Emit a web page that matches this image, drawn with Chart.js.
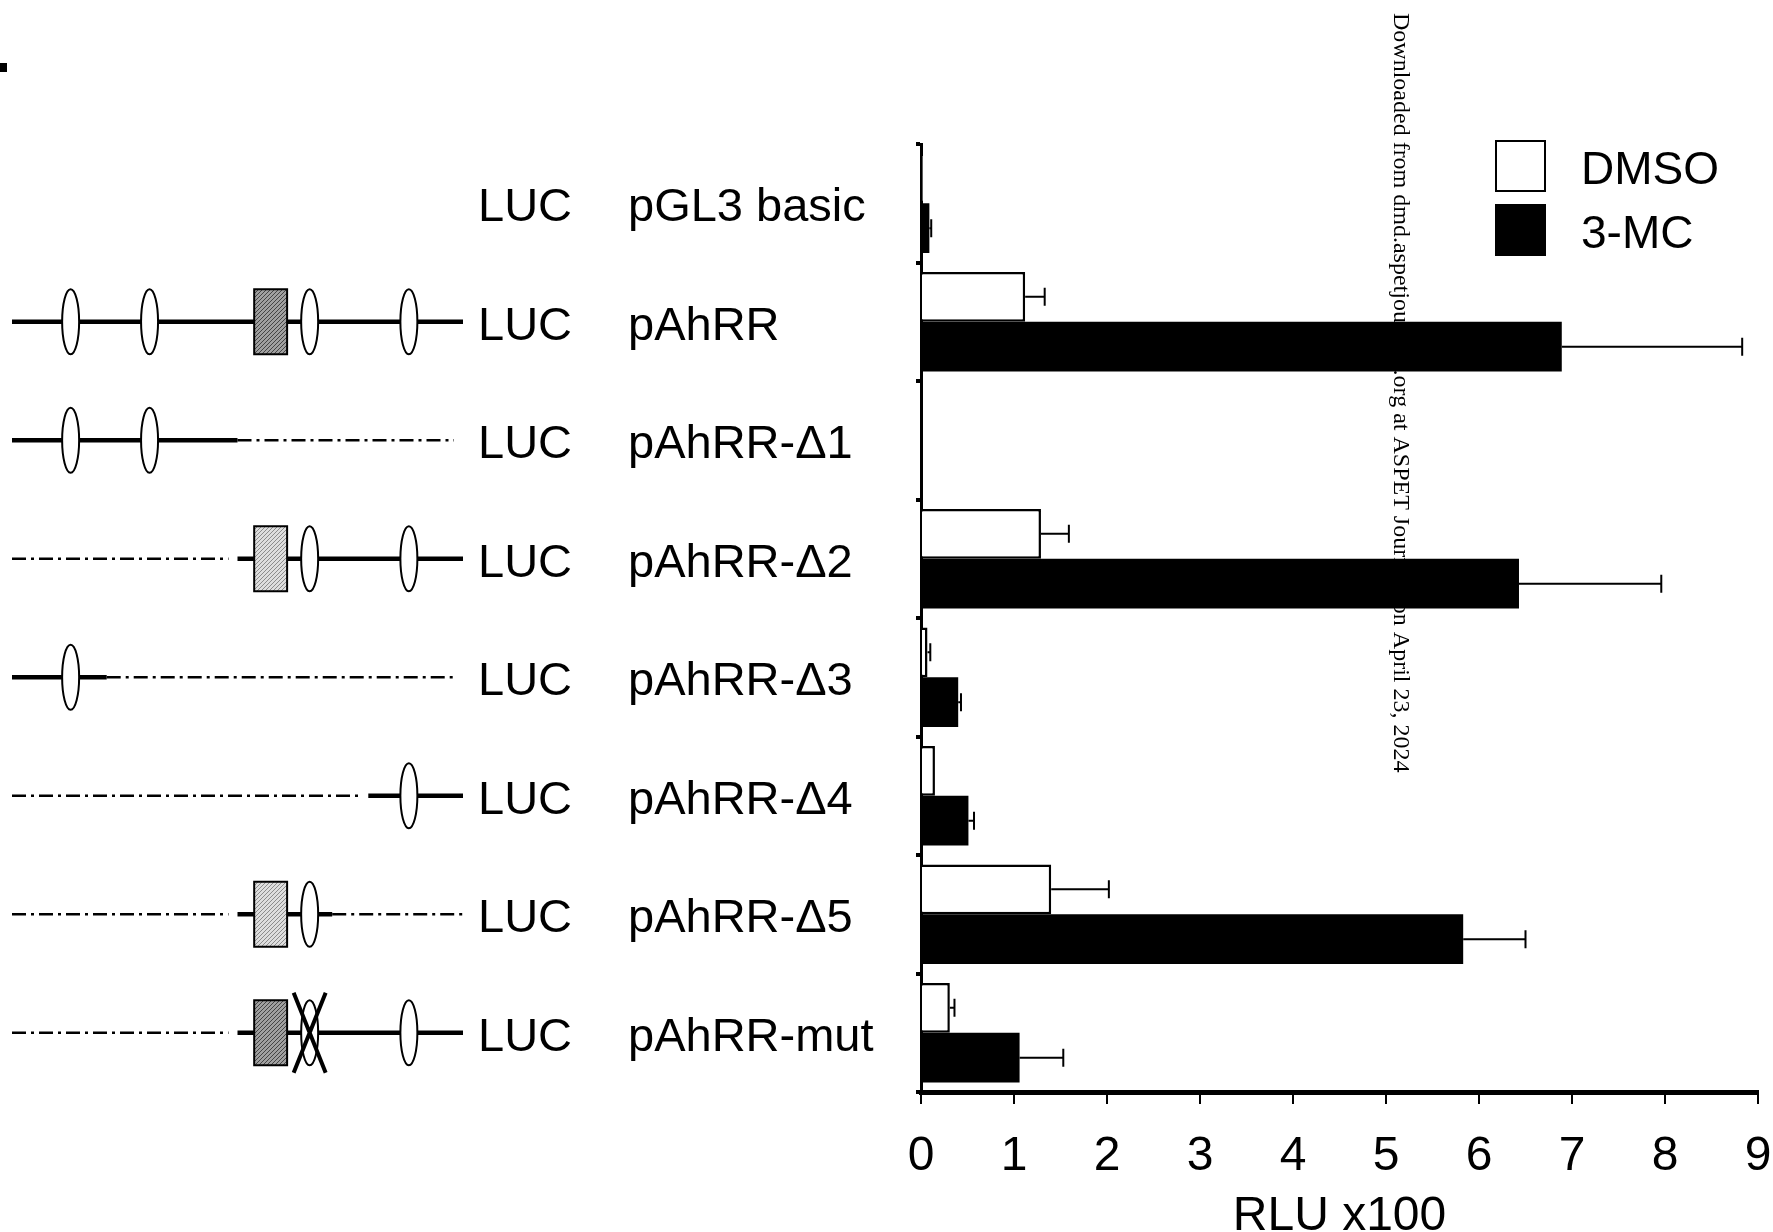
<!DOCTYPE html>
<html>
<head>
<meta charset="utf-8">
<script src="https://cdn.jsdelivr.net/npm/chart.js@4/dist/chart.umd.min.js"></script>
<style>
  body { margin: 0; background: #ffffff; }
  canvas { display: block; }
</style>
</head>
<body>
<canvas id="lucChart" width="1773" height="1232"></canvas>
<script>
// constructs, top to bottom
const constructs = ['pGL3 basic', 'pAhRR', 'pAhRR-\u03941', 'pAhRR-\u03942', 'pAhRR-\u03943', 'pAhRR-\u03944', 'pAhRR-\u03945', 'pAhRR-mut'];

// RLU x100
const dmsoValues = [0.02, 1.12, 0.01, 1.29, 0.07, 0.15, 1.40, 0.31];
const dmsoErrors = [0, 0.21, 0, 0.30, 0.03, 0, 0.62, 0.05];
const mcValues = [0.09, 6.89, 0.01, 6.43, 0.40, 0.51, 5.83, 1.06];
const mcErrors = [0.02, 1.94, 0, 1.53, 0.03, 0.06, 0.67, 0.47];

const xTicks = [0, 1, 2, 3, 4, 5, 6, 7, 8, 9];

// promoter maps, positions in % of the cloned region (0 = 5' end)
const solidParts = [[], [[0, 100]], [[0, 50]], [[50, 100]], [[0, 21]], [[79, 100]], [[50, 71]], [[50, 100]]];
const deletedParts = [[], [], [[50, 98]], [[0, 48]], [[21, 98]], [[0, 77]], [[0, 48], [71, 100]], [[0, 48]]];
const xreSites = [[], [13, 30.5, 66, 88], [13, 30.5], [66, 88], [13], [88], [66], [66, 88]];
const mutatedSites = [[], [], [], [], [], [], [], [66]];
const boxKind = [null, 'dark', null, 'light', null, null, 'light', 'dark'];
const boxSpan = [53.7, 61];

const FONT = '"Liberation Sans", Arial, Helvetica, sans-serif';
const MAP_LEFT = 12;
const MAP_RIGHT = 463;

const hatch = (ctx, bg, fg) => {
    const c = document.createElement('canvas');
    c.width = 4;
    c.height = 4;
    const g = c.getContext('2d');
    g.fillStyle = bg;
    g.fillRect(0, 0, 4, 4);
    g.strokeStyle = fg;
    g.lineWidth = 1;
    g.beginPath();
    g.moveTo(0, 4);
    g.lineTo(4, 0);
    g.stroke();
    return ctx.createPattern(c, 'repeat');
};

const figurePlugin = {
    id: 'figure',
    beforeDatasetsDraw(chart) {
        // journal download stamp running down the page
        const ctx = chart.ctx;
        ctx.save();
        ctx.translate(1400, 13);
        ctx.rotate(Math.PI / 2);
        ctx.fillStyle = '#000';
        ctx.font = '24px "Liberation Serif", "Times New Roman", serif';
        ctx.textAlign = 'left';
        ctx.textBaseline = 'middle';
        ctx.fillText('Downloaded from dmd.aspetjournals.org at ASPET Journals on April 23, 2024', 0, 0);
        ctx.restore();
    },
    afterDatasetsDraw(chart) {
        // one-sided error bars
        const ctx = chart.ctx;
        const xs = chart.scales.x;
        const errs = [dmsoErrors, mcErrors];
        ctx.save();
        ctx.strokeStyle = '#000';
        ctx.lineWidth = 2;
        chart.data.datasets.forEach((ds, di) => {
            const meta = chart.getDatasetMeta(di);
            meta.data.forEach((bar, i) => {
                const e = errs[di][i];
                if (!e) return;
                const x0 = bar.x;
                const x1 = xs.getPixelForValue(ds.data[i] + e);
                ctx.beginPath();
                ctx.moveTo(x0, bar.y);
                ctx.lineTo(x1, bar.y);
                ctx.moveTo(x1, bar.y - 9);
                ctx.lineTo(x1, bar.y + 9);
                ctx.stroke();
            });
        });
        ctx.restore();
    },
    afterDraw(chart) {
        const ctx = chart.ctx;
        const ys = chart.scales.y;
        const ux = (u) => MAP_LEFT + u / 100 * (MAP_RIGHT - MAP_LEFT);
        const dark = hatch(ctx, '#a0a0a0', '#444');
        const light = hatch(ctx, '#dedede', '#8c8c8c');

        ctx.save();
        // fragment of panel letter at the page edge
        ctx.fillStyle = '#000';
        ctx.fillRect(0, 63, 7, 9);

        constructs.forEach((name, i) => {
            const cy = ys.getPixelForValue(i);

            ctx.fillStyle = '#000';
            ctx.font = '47px ' + FONT;
            ctx.textAlign = 'left';
            ctx.textBaseline = 'alphabetic';
            ctx.fillText('LUC', 478, cy + 18);
            ctx.fillText(name, 628, cy + 18);

            // deleted region, dash-dot
            ctx.strokeStyle = '#000';
            ctx.lineWidth = 2.5;
            ctx.setLineDash([14, 5, 3, 5]);
            deletedParts[i].forEach(([a, b]) => {
                ctx.beginPath();
                ctx.moveTo(ux(a), cy);
                ctx.lineTo(ux(b), cy);
                ctx.stroke();
            });
            ctx.setLineDash([]);

            // retained region
            ctx.lineWidth = 4.5;
            solidParts[i].forEach(([a, b]) => {
                ctx.beginPath();
                ctx.moveTo(ux(a), cy);
                ctx.lineTo(ux(b), cy);
                ctx.stroke();
            });

            if (boxKind[i]) {
                const bx = ux(boxSpan[0]);
                const bw = ux(boxSpan[1]) - bx;
                ctx.fillStyle = boxKind[i] === 'dark' ? dark : light;
                ctx.fillRect(bx, cy - 32.5, bw, 65);
                ctx.lineWidth = 2;
                ctx.strokeRect(bx, cy - 32.5, bw, 65);
            }

            xreSites[i].forEach((u) => {
                ctx.beginPath();
                ctx.ellipse(ux(u), cy, 8.5, 32.5, 0, 0, Math.PI * 2);
                ctx.fillStyle = '#fff';
                ctx.fill();
                ctx.lineWidth = 2;
                ctx.stroke();
            });

            mutatedSites[i].forEach((u) => {
                const x = ux(u);
                ctx.lineWidth = 4;
                ctx.beginPath();
                ctx.moveTo(x - 16, cy - 40);
                ctx.lineTo(x + 16, cy + 40);
                ctx.moveTo(x + 16, cy - 40);
                ctx.lineTo(x - 16, cy + 40);
                ctx.stroke();
            });
        });

        // legend
        const legend = [['DMSO', '#ffffff'], ['3-MC', '#000000']];
        ctx.font = '46px ' + FONT;
        legend.forEach(([text, fill], k) => {
            const top = 141 + k * 64;
            ctx.fillStyle = fill;
            ctx.fillRect(1496, top, 49, 50);
            ctx.strokeStyle = '#000';
            ctx.lineWidth = 2;
            ctx.strokeRect(1496, top, 49, 50);
            ctx.fillStyle = '#000';
            ctx.fillText(text, 1581, top + 43);
        });
        ctx.restore();
    }
};

new Chart(document.getElementById('lucChart').getContext('2d'), {
    type: 'bar',
    data: {
        labels: constructs,
        datasets: [{
            label: 'DMSO',
            data: dmsoValues,
            backgroundColor: '#ffffff',
            borderColor: '#000000',
            borderWidth: 2.5,
            categoryPercentage: 0.84,
            barPercentage: 1.0
        }, {
            label: '3-MC',
            data: mcValues,
            backgroundColor: '#000000',
            borderColor: '#000000',
            borderWidth: 0,
            categoryPercentage: 0.84,
            barPercentage: 1.0
        }]
    },
    options: {
        indexAxis: 'y',
        responsive: false,
        animation: false,
        layout: {
            padding: { left: 911, top: 144, right: 15, bottom: 0 }
        },
        scales: {
            x: {
                min: 0,
                max: 9,
                afterFit: (scale) => {
                    scale.height = 140;
                    // the end labels may hang over the edges
                    scale.paddingLeft = 0;
                    scale.paddingRight = 0;
                },
                afterBuildTicks: (scale) => { scale.ticks = xTicks.map((v) => ({ value: v })); },
                border: { display: true, color: '#000', width: 5 },
                grid: {
                    drawOnChartArea: false,
                    drawTicks: true,
                    tickLength: 12,
                    lineWidth: 2,
                    color: '#000'
                },
                ticks: {
                    color: '#000',
                    padding: 24,
                    maxRotation: 0,
                    font: { family: FONT, size: 48 }
                },
                title: {
                    display: true,
                    text: 'RLU x100',
                    color: '#000',
                    padding: 0,
                    font: { family: FONT, size: 48, lineHeight: 0.65 }
                }
            },
            y: {
                afterFit: (scale) => { scale.width = 10; },
                border: { display: true, color: '#000', width: 3 },
                grid: {
                    offset: true,
                    drawOnChartArea: false,
                    drawTicks: true,
                    tickLength: 5,
                    lineWidth: 4,
                    color: '#000'
                },
                ticks: { display: false }
            }
        },
        plugins: {
            legend: { display: false },
            tooltip: { enabled: false }
        }
    },
    plugins: [figurePlugin]
});
</script>
</body>
</html>
